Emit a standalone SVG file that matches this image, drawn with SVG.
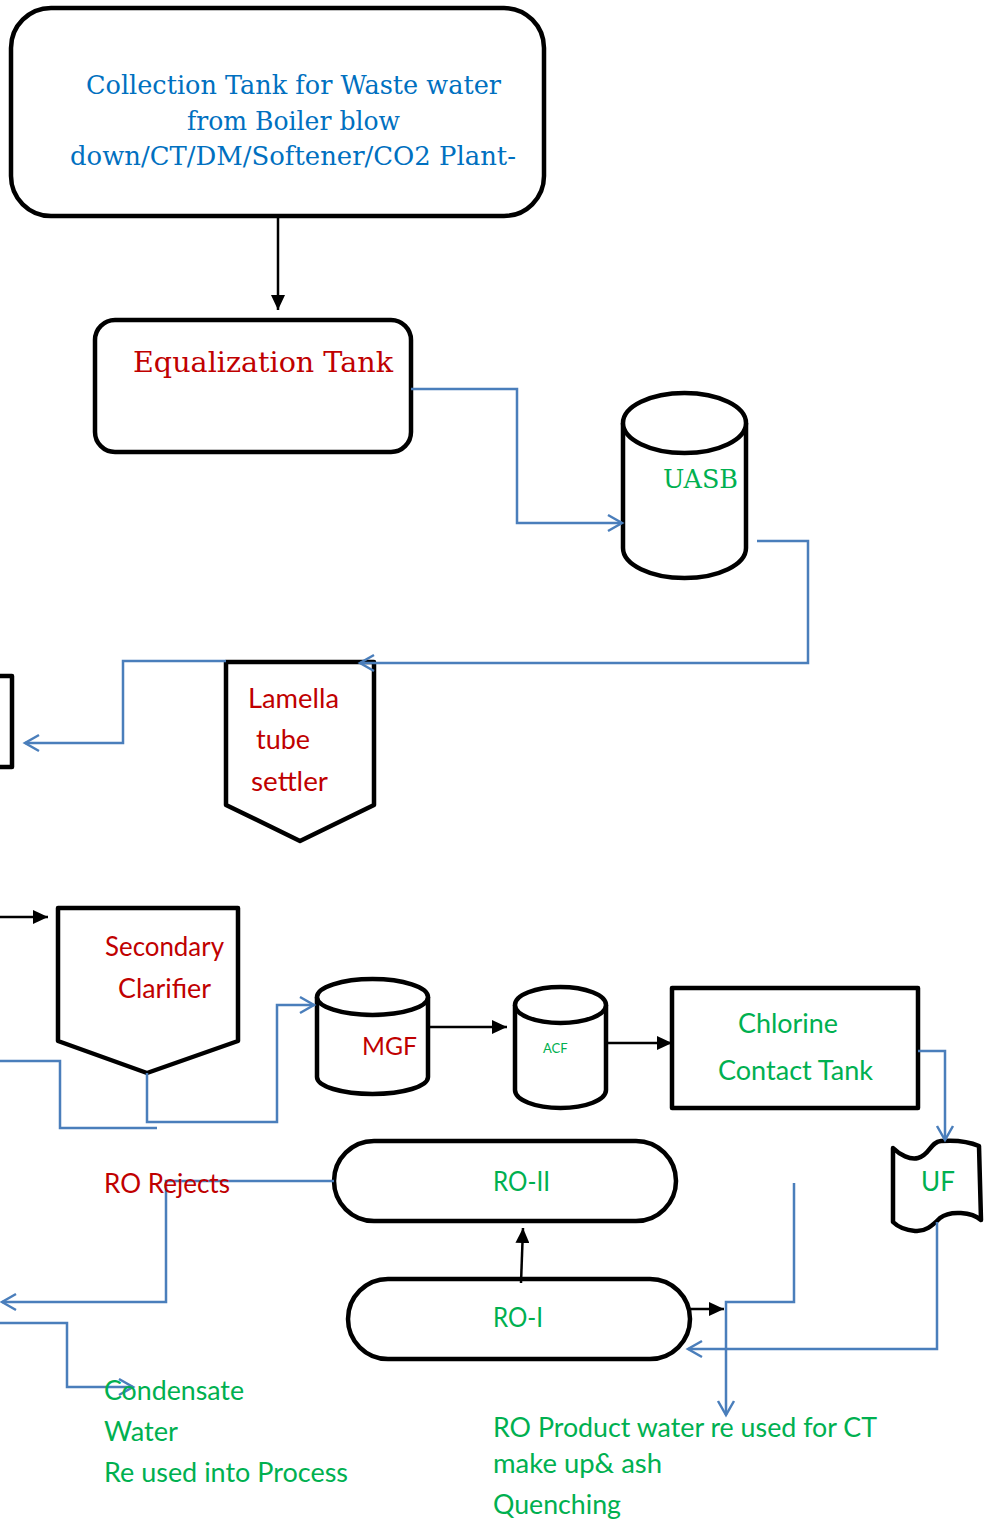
<svg xmlns="http://www.w3.org/2000/svg" width="989" height="1520" viewBox="0 0 989 1520">
<style>
.box{fill:#fff;stroke:#000;stroke-width:4.5;stroke-linejoin:round}
.con{fill:none;stroke:#4A7EBB;stroke-width:2.5}
.blk{fill:none;stroke:#000;stroke-width:2.5}
.serif{font-family:"DejaVu Serif","Liberation Serif",serif}
.sans{font-family:Lato,"Liberation Sans",sans-serif}
.blue{fill:#0070C0}
.red{fill:#C00000}
.green{fill:#00B050}
</style>
<defs>
<marker id="openB" markerUnits="userSpaceOnUse" markerWidth="20" markerHeight="20" refX="15" refY="10" orient="auto"><path d="M1,2 L15,10 L1,18" fill="none" stroke="#4A7EBB" stroke-width="2.5"/></marker>
<marker id="fillK" markerUnits="userSpaceOnUse" markerWidth="16" markerHeight="14" refX="15" refY="7" orient="auto"><path d="M0,0 L15,7 L0,14Z" fill="#000"/></marker>
</defs>
<rect width="989" height="1520" fill="#fff"/>

<g id="collection-tank">
<rect class="box" x="11" y="8" width="533" height="208" rx="40"/>
<text class="serif blue" font-size="26" x="86" y="94" textLength="415" lengthAdjust="spacingAndGlyphs">Collection Tank for Waste water</text>
<text class="serif blue" font-size="26" x="187" y="130" textLength="213" lengthAdjust="spacingAndGlyphs">from Boiler blow</text>
<text class="serif blue" font-size="26" x="70" y="165" textLength="446" lengthAdjust="spacingAndGlyphs">down/CT/DM/Softener/CO2 Plant-</text>
</g>

<g id="equalization-tank">
<rect class="box" x="95" y="320" width="316" height="132" rx="20"/>
<text class="serif red" font-size="28" x="133" y="372" textLength="260" lengthAdjust="spacingAndGlyphs">Equalization Tank</text>
</g>

<g id="uasb">
<path class="box" d="M623,423 L623,548 A61.5,30 0 0 0 746,548 L746,423"/>
<ellipse class="box" cx="684.5" cy="423" rx="61.5" ry="30"/>
<text class="serif green" font-size="26" x="663" y="488" textLength="75" lengthAdjust="spacingAndGlyphs">UASB</text>
</g>

<g id="left-box">
<rect class="box" x="-100" y="676" width="112" height="91"/>
</g>

<g id="lamella">
<polygon class="box" points="226,662 374,662 374,805 300,841 226,805"/>
<text class="sans red" font-size="26" x="248" y="708" textLength="91" lengthAdjust="spacingAndGlyphs">Lamella</text>
<text class="sans red" font-size="26" x="256" y="749" textLength="54" lengthAdjust="spacingAndGlyphs">tube</text>
<text class="sans red" font-size="26" x="251" y="791" textLength="77" lengthAdjust="spacingAndGlyphs">settler</text>
</g>

<g id="secondary-clarifier">
<polygon class="box" points="58,908 238,908 238,1041 147,1073 58,1041"/>
<text class="sans red" font-size="26" x="105" y="956" textLength="119" lengthAdjust="spacingAndGlyphs">Secondary</text>
<text class="sans red" font-size="26" x="118" y="998" textLength="93" lengthAdjust="spacingAndGlyphs">Clarifier</text>
</g>

<g id="mgf">
<path class="box" d="M317,997 L317,1077 A55.5,17 0 0 0 428,1077 L428,997"/>
<ellipse class="box" cx="372.5" cy="997" rx="55.5" ry="18"/>
<text class="sans red" font-size="25" x="362" y="1055" textLength="55" lengthAdjust="spacingAndGlyphs">MGF</text>
</g>

<g id="acf">
<path class="box" d="M515,1005 L515,1090 A45.5,18 0 0 0 606,1090 L606,1005"/>
<ellipse class="box" cx="560.5" cy="1005" rx="45.5" ry="18"/>
<text class="sans green" font-size="13" x="543" y="1053">ACF</text>
</g>

<g id="chlorine-contact-tank">
<rect class="box" x="672" y="988" width="246" height="120" stroke-width="5" stroke-linejoin="miter"/>
<text class="sans green" font-size="26" x="738" y="1033" textLength="100" lengthAdjust="spacingAndGlyphs">Chlorine</text>
<text class="sans green" font-size="26" x="718" y="1080" textLength="155" lengthAdjust="spacingAndGlyphs">Contact Tank</text>
</g>

<g id="uf">
<path class="box" d="M893,1148 C900,1155 910,1160 918,1158 C930,1155 930,1142 941,1141 C955,1140 970,1142 979,1146 L981,1220 C972,1212 950,1210 940,1218 C932,1226 925,1232 915,1231 C905,1230 897,1226 893,1222 Z"/>
<text class="sans green" font-size="26" x="938" y="1191" text-anchor="middle">UF</text>
</g>

<g id="ro-ii">
<rect class="box" x="334" y="1141" width="342" height="80" rx="40"/>
<text class="sans green" font-size="26" x="493" y="1191" textLength="57" lengthAdjust="spacingAndGlyphs">RO-II</text>
</g>

<g id="ro-i">
<rect class="box" x="348" y="1279" width="342" height="80" rx="40"/>
<text class="sans green" font-size="26" x="493" y="1327" textLength="50" lengthAdjust="spacingAndGlyphs">RO-I</text>
</g>

<g id="connectors">
<line class="blk" x1="278" y1="216" x2="278" y2="310" marker-end="url(#fillK)"/>
<polyline class="con" points="411,389 517,389 517,523 622,523" marker-end="url(#openB)"/>
<polyline class="con" points="757,541 808,541 808,663 360,663" marker-end="url(#openB)"/>
<polyline class="con" points="226,661 123,661 123,743 25,743" marker-end="url(#openB)"/>
<line class="blk" x1="0" y1="917" x2="48" y2="917" marker-end="url(#fillK)"/>
<polyline class="con" points="0,1061 60,1061 60,1128 157,1128"/>
<polyline class="con" points="147,1073 147,1122 277,1122 277,1005 314,1005" marker-end="url(#openB)"/>
<line class="blk" x1="430" y1="1027" x2="507" y2="1027" marker-end="url(#fillK)"/>
<line class="blk" x1="606" y1="1043" x2="672" y2="1043" marker-end="url(#fillK)"/>
<polyline class="con" points="918,1051 945,1051 945,1140" marker-end="url(#openB)"/>
<polyline class="con" points="937,1222 937,1349 688,1349" marker-end="url(#openB)"/>
<line class="blk" x1="521" y1="1283" x2="523" y2="1228" marker-end="url(#fillK)"/>
<line class="blk" x1="690" y1="1309" x2="724" y2="1309" marker-end="url(#fillK)"/>
<polyline class="con" points="794,1183 794,1302 726,1302 726,1415" marker-end="url(#openB)"/>
<polyline class="con" points="334,1181 166,1181 166,1302 2,1302" marker-end="url(#openB)"/>
<polyline class="con" points="0,1323 67,1323 67,1387 133,1387" marker-end="url(#openB)"/>
</g>

<g id="labels">
<text class="sans red" font-size="26" x="104" y="1193" textLength="126" lengthAdjust="spacingAndGlyphs">RO Rejects</text>
<text class="sans green" font-size="26" x="104" y="1400" textLength="140" lengthAdjust="spacingAndGlyphs">Condensate</text>
<text class="sans green" font-size="26" x="104" y="1441" textLength="74" lengthAdjust="spacingAndGlyphs">Water</text>
<text class="sans green" font-size="26" x="104" y="1482" textLength="244" lengthAdjust="spacingAndGlyphs">Re used into Process</text>
<text class="sans green" font-size="26" x="493" y="1437" textLength="384" lengthAdjust="spacingAndGlyphs">RO Product water re used for CT</text>
<text class="sans green" font-size="26" x="493" y="1473" textLength="169" lengthAdjust="spacingAndGlyphs">make up&amp; ash</text>
<text class="sans green" font-size="26" x="493" y="1514" textLength="128" lengthAdjust="spacingAndGlyphs">Quenching</text>
</g>
</svg>
